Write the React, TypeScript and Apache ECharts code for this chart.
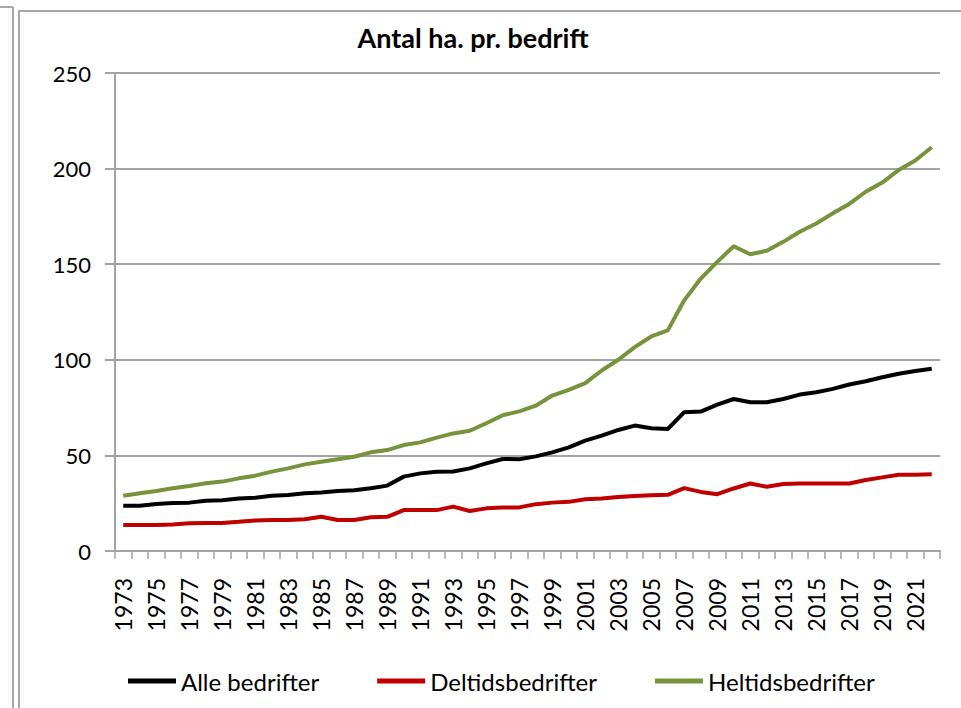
import React, { useEffect, useRef } from "react";
import * as echarts from "echarts";

const years = [
  "1973", "1974", "1975", "1976", "1977", "1978", "1979", "1980", "1981", "1982",
  "1983", "1984", "1985", "1986", "1987", "1988", "1989", "1990", "1991", "1992",
  "1993", "1994", "1995", "1996", "1997", "1998", "1999", "2000", "2001", "2002",
  "2003", "2004", "2005", "2006", "2007", "2008", "2009", "2010", "2011", "2012",
  "2013", "2014", "2015", "2016", "2017", "2018", "2019", "2020", "2021", "2022",
];

const alleBedrifter = [
  23.7, 23.7, 24.6, 25.1, 25.3, 26.3, 26.5, 27.5, 27.9, 28.9,
  29.3, 30.2, 30.6, 31.4, 31.8, 32.8, 34.2, 38.9, 40.6, 41.5,
  41.6, 43.2, 45.8, 48.1, 48.0, 49.5, 51.6, 54.2, 57.7, 60.3,
  63.3, 65.6, 64.2, 63.8, 72.6, 72.9, 76.6, 79.5, 77.8, 77.8,
  79.5, 81.8, 83.0, 84.8, 87.1, 88.8, 90.9, 92.7, 94.1, 95.3,
];

const deltidsBedrifter = [
  13.6, 13.6, 13.6, 13.8, 14.5, 14.7, 14.7, 15.3, 16.0, 16.2,
  16.2, 16.6, 17.9, 16.2, 16.2, 17.6, 17.9, 21.4, 21.4, 21.4,
  23.2, 20.9, 22.3, 22.7, 22.8, 24.5, 25.3, 25.7, 27.1, 27.4,
  28.3, 28.8, 29.2, 29.4, 32.9, 30.9, 29.7, 32.7, 35.3, 33.6,
  35.0, 35.3, 35.3, 35.3, 35.3, 37.1, 38.5, 39.9, 39.9, 40.2,
];

const heltidsBedrifter = [
  28.9, 30.2, 31.4, 32.8, 34.0, 35.4, 36.3, 38.0, 39.4, 41.5,
  43.2, 45.3, 46.7, 48.0, 49.3, 51.6, 52.8, 55.4, 56.8, 59.3,
  61.5, 62.9, 66.8, 71.0, 73.0, 76.0, 81.3, 84.3, 87.8, 94.4,
  100.0, 106.6, 112.2, 115.4, 131.1, 142.5, 151.2, 159.4, 155.2, 157.0,
  161.7, 167.0, 171.3, 176.6, 181.5, 187.9, 192.7, 199.3, 204.2, 211.2,
];

const seriesNames = ["Alle bedrifter", "Deltidsbedrifter", "Heltidsbedrifter"];
const seriesColors = ["#000000", "#C00000", "#77933C"];
const titleText = "Antal ha. pr. bedrift";

const FONT = "Lato, 'Open Sans', sans-serif";
const GRID_GRAY = "#a3a3a3";

export default function App() {
  const ref = useRef<HTMLDivElement>(null);

  useEffect(() => {
    if (!ref.current) return;
    const chart = echarts.init(ref.current, undefined, { renderer: "svg" });
    const data = [alleBedrifter, deltidsBedrifter, heltidsBedrifter];
    chart.setOption({
      animation: false,
      backgroundColor: "#ffffff",
      textStyle: { fontFamily: FONT },
      title: {
        text: titleText,
        left: 468,
        top: 19,
        textAlign: "center",
        textStyle: { fontFamily: FONT, fontWeight: "bold", fontSize: 27, color: "#000" },
      },
      grid: { left: 115, right: 21, top: 73, bottom: 157, containLabel: false },
      legend: {
        data: seriesNames,
        left: 123,
        top: 664,
        icon: "rect",
        itemWidth: 48,
        itemHeight: 5,
        itemGap: 58,
        textStyle: { fontFamily: FONT, fontSize: 24, color: "#000" },
      },
      xAxis: {
        type: "category",
        data: years,
        boundaryGap: true,
        axisLine: { lineStyle: { color: GRID_GRAY, width: 2 } },
        axisTick: { show: true, interval: 0, length: 8, lineStyle: { color: GRID_GRAY, width: 1.5 } },
        axisLabel: {
          interval: 1,
          rotate: 90,
          margin: 27,
          fontFamily: FONT,
          fontSize: 23,
          color: "#000",
        },
        splitLine: { show: false },
      },
      yAxis: {
        type: "value",
        min: 0,
        max: 250,
        interval: 50,
        axisLine: { show: true, lineStyle: { color: GRID_GRAY, width: 2 } },
        axisTick: { show: true, length: 10, lineStyle: { color: GRID_GRAY, width: 2 } },
        axisLabel: { margin: 24, fontFamily: FONT, fontSize: 22, color: "#000" },
        splitLine: { show: true, lineStyle: { color: GRID_GRAY, width: 2 } },
      },
      graphic: [
        { type: "line", shape: { x1: 0, y1: 7, x2: 13, y2: 7 }, style: { stroke: "#a8a8a8", lineWidth: 2 } },
        { type: "line", shape: { x1: 13, y1: 7, x2: 13, y2: 708 }, style: { stroke: "#a8a8a8", lineWidth: 2 } },
        {
          type: "rect",
          shape: { x: 19, y: 11, width: 1000, height: 760 },
          style: { fill: "none", stroke: "#a8a8a8", lineWidth: 2 },
          z: -1,
        },
      ],
      series: seriesNames.map((name, i) => ({
        name,
        type: "line",
        data: data[i],
        symbol: "none",
        lineStyle: { color: seriesColors[i], width: 4 },
        itemStyle: { color: seriesColors[i] },
      })),
    });
    return () => chart.dispose();
  }, []);

  return (
    <div
      ref={ref}
      style={{ position: "fixed", left: 0, top: 0, width: 961, height: 708, background: "#fff" }}
    />
  );
}
